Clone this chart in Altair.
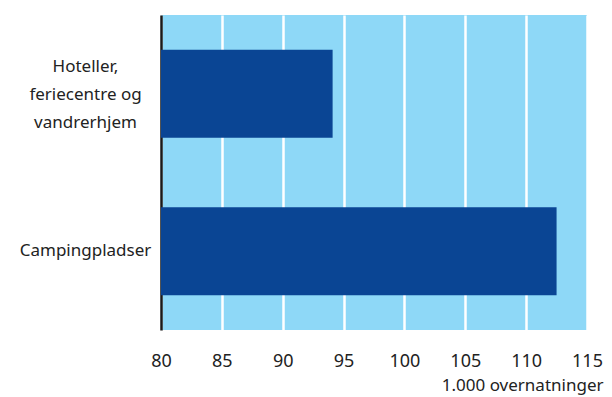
import altair as alt
import pandas as pd

categories = ["Hoteller,\nferiecentre og\nvandrerhjem", "Campingpladser"]
values = [94.1, 112.5]
x_ticks = [80, 85, 90, 95, 100, 105, 110, 115]
x_title = "1.000 overnatninger"

df = pd.DataFrame({"cat": categories, "val": values})

FONT = "Noto Sans"
TXT = "#222222"

chart = alt.Chart(df).mark_bar(color="#0a4594").encode(
    x=alt.X(
        "val:Q",
        scale=alt.Scale(domain=[80, 115], nice=False, zero=False),
        axis=alt.Axis(
            values=x_ticks,
            title=x_title,
            titleAnchor="end",
            titleAlign="right",
            titleX=442,
            titleY=60,
            titleBaseline="alphabetic",
            titleFont=FONT,
            titleFontSize=17,
            titleFontWeight="normal",
            titleColor=TXT,
            labelFont=FONT,
            labelFontSize=18,
            labelColor=TXT,
            labelPadding=22,
            ticks=False,
            domain=False,
            grid=True,
            gridColor="white",
            gridWidth=2.5,
            labelFlush=False,
        ),
    ),
    x2=alt.datum(80),
    y=alt.Y(
        "cat:N",
        sort=categories,
        scale=alt.Scale(paddingInner=0.44, paddingOuter=0.22),
        axis=alt.Axis(
            title=None,
            labelExpr="split(datum.label, '\\n')",
            labelFont=FONT,
            labelFontSize=17,
            labelColor=TXT,
            labelAlign="center",
            labelBaseline="middle",
            labelLineHeight=28,
            labelPadding=76,
            labelOffset={
                "condition": {"test": "indexof(datum.label, '\\n') >= 0", "value": -27},
                "value": 0,
            },
            ticks=False,
            domain=True,
            domainColor="#1a1a1a",
            domainWidth=2.5,
            grid=False,
        ),
    ),
).properties(
    width=426,
    height=315,
    autosize=alt.AutoSizeParams(type="none"),
    padding={"left": 153, "top": 7, "right": 17, "bottom": 66},
).configure_view(
    fill="#8ed8f7",
    strokeWidth=0,
)

chart.save("out.html", embed_options={"renderer": "svg", "actions": False})
